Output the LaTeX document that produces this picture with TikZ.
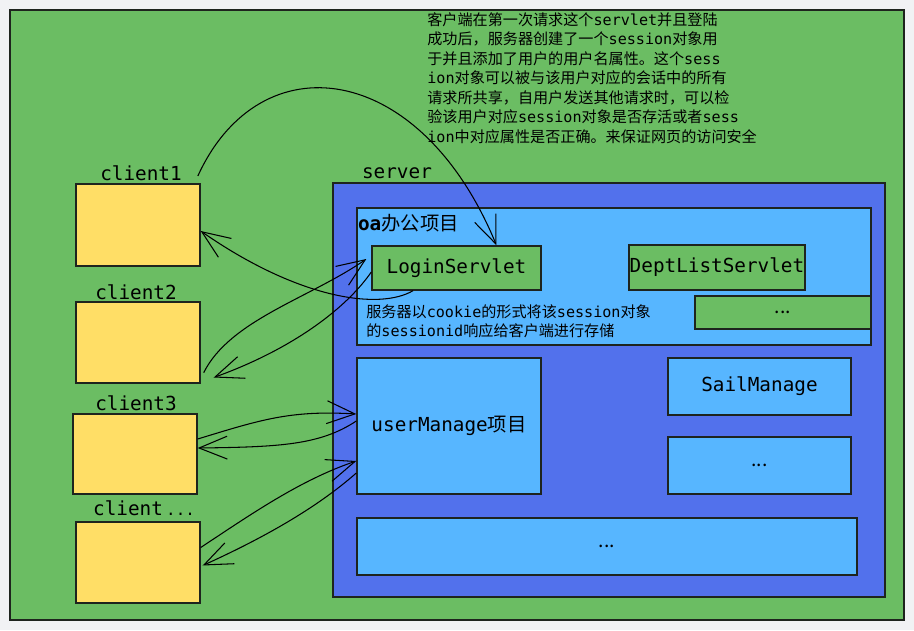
\documentclass[tikz,border=0pt]{standalone}
\usepackage{fontspec}
\setmainfont{Noto Sans CJK SC}
\setmonofont{DejaVu Sans Mono}
\usetikzlibrary{arrows.meta}

\definecolor{bggray}{RGB}{241,242,244}
\definecolor{grassgreen}{RGB}{107,189,99}
\definecolor{serverblue}{RGB}{82,113,236}
\definecolor{skyblue}{RGB}{87,182,255}
\definecolor{clientyellow}{RGB}{255,222,102}
\definecolor{edgegray}{RGB}{30,36,30}

\newcommand{\zh}[1]{{\rmfamily #1}}

\begin{document}
\begin{tikzpicture}[x=0.02cm, y=-0.02cm,
    box/.style={draw=edgegray, line width=0.8pt, inner sep=0pt,
      font=\fontsize{11}{13}\selectfont\ttfamily},
    tag/.style={inner sep=1pt, font=\fontsize{11}{13}\selectfont\ttfamily},
    memo/.style={inner sep=0pt, align=left, font=\fontsize{8.6}{11.1}\selectfont},
    link/.style={->, line width=0.6pt},
    >={Straight Barb[length=16pt,width=13pt]}]

  \fill[bggray] (0,0) rectangle (914,630);
  \useasboundingbox (0,0) rectangle (914,630);

  % frame and server
  \node[box, fill=grassgreen, minimum width=17.88cm, minimum height=12.2cm] (frame) at (457,315) {};
  \node[box, fill=serverblue, minimum width=11.04cm, minimum height=8.28cm] (server) at (609,390) {};
  \node[tag] (srv) at (397,173) {server};

  % oa project
  \node[box, fill=skyblue, minimum width=10.28cm, minimum height=2.74cm] (oa) at (614,276.5) {};
  \node[tag, anchor=west] (oatag) at (356,223) {\textbf{oa}\zh{办公项目}};
  \node[box, fill=grassgreen, minimum width=3.38cm, minimum height=0.88cm] (login) at (456.5,268) {LoginServlet};
  \node[box, fill=grassgreen, minimum width=3.52cm, minimum height=0.9cm] (dept) at (717,267.5) {DeptListServlet};
  \node[box, fill=grassgreen, minimum width=3.52cm, minimum height=0.66cm] (more1) at (783,312.5) {\zh{\fontsize{11}{11}\selectfont ...}};
  \node[memo, anchor=north west] (cookie) at (366,304) {服务器以\texttt{cookie}的形式将该\texttt{session}对象\\的\texttt{sessionid}响应给客户端进行存储};

  % other projects
  \node[box, fill=skyblue, minimum width=3.68cm, minimum height=2.72cm] (um) at (449,426) {userManage\zh{项目}};
  \node[box, fill=skyblue, minimum width=3.66cm, minimum height=1.14cm] (sail) at (759.5,386.5) {SailManage};
  \node[box, fill=skyblue, minimum width=3.66cm, minimum height=1.14cm] (more2) at (759.5,465.5) {\zh{\fontsize{11}{11}\selectfont ...}};
  \node[box, fill=skyblue, minimum width=10cm, minimum height=1.14cm] (more3) at (607,546.5) {\zh{\fontsize{11}{11}\selectfont ...}};

  % clients
  \node[box, fill=clientyellow, minimum width=2.48cm, minimum height=1.64cm] (c1) at (138,225) {};
  \node[box, fill=clientyellow, minimum width=2.48cm, minimum height=1.62cm] (c2) at (138,342.5) {};
  \node[box, fill=clientyellow, minimum width=2.48cm, minimum height=1.6cm] (c3) at (135,454) {};
  \node[box, fill=clientyellow, minimum width=2.48cm, minimum height=1.62cm] (c4) at (138,562.5) {};
  \node[tag] (lab1) at (141,173) {client1};
  \node[tag] (lab2) at (136,292) {client2};
  \node[tag] (lab3) at (136,403) {client3};
  \node[tag] (lab4) at (144,508) {client\,\fontsize{9}{9}\selectfont...};

  % note
  \node[memo, anchor=north west] (note) at (427,12) {客户端在第一次请求这个\texttt{servlet}并且登陆\\
    成功后，服务器创建了一个\texttt{session}对象用\\
    于并且添加了用户的用户名属性。这个\texttt{sess}\\
    \texttt{ion}对象可以被与该用户对应的会话中的所有\\
    请求所共享，自用户发送其他请求时，可以检\\
    验该用户对应\texttt{session}对象是否存活或者\texttt{sess}\\
    \texttt{ion}中对应属性是否正确。来保证网页的访问安全};

  % connectors
  \draw[link] ([shift={(14,3)}]lab1.east) .. controls (260,40) and (420,60) .. ([xshift=0.8cm]login.north);
  \draw[link] ([xshift=-0.87cm]login.south) .. controls (380,310) and (300,300) .. ([yshift=-0.12cm]c1.east);
  \draw[link] ([shift={(3,-11)}]c2.south east) .. controls (230,320) and (310,298) .. ([shift={(-5,-9)}]login.west);
  \draw[link] ([yshift=-0.08cm]login.west) .. controls (345,310) and (290,350) .. ([shift={(13,35)}]c2.east);
  \draw[link] ([yshift=0.3cm]c3.east) .. controls (260,420) and (290,410) .. ([yshift=0.24cm]um.west);
  \draw[link] ([yshift=0.1cm]um.west) .. controls (320,445) and (280,447) .. ([yshift=0.12cm]c3.east);
  \draw[link] ([yshift=0.3cm]c4.east) .. controls (250,515) and (300,480) .. ([yshift=-0.7cm]um.west);
  \draw[link] ([yshift=-0.94cm]um.west) .. controls (320,505) and (270,535) .. ([shift={(2,3)}]c4.east);
\end{tikzpicture}
\end{document}
